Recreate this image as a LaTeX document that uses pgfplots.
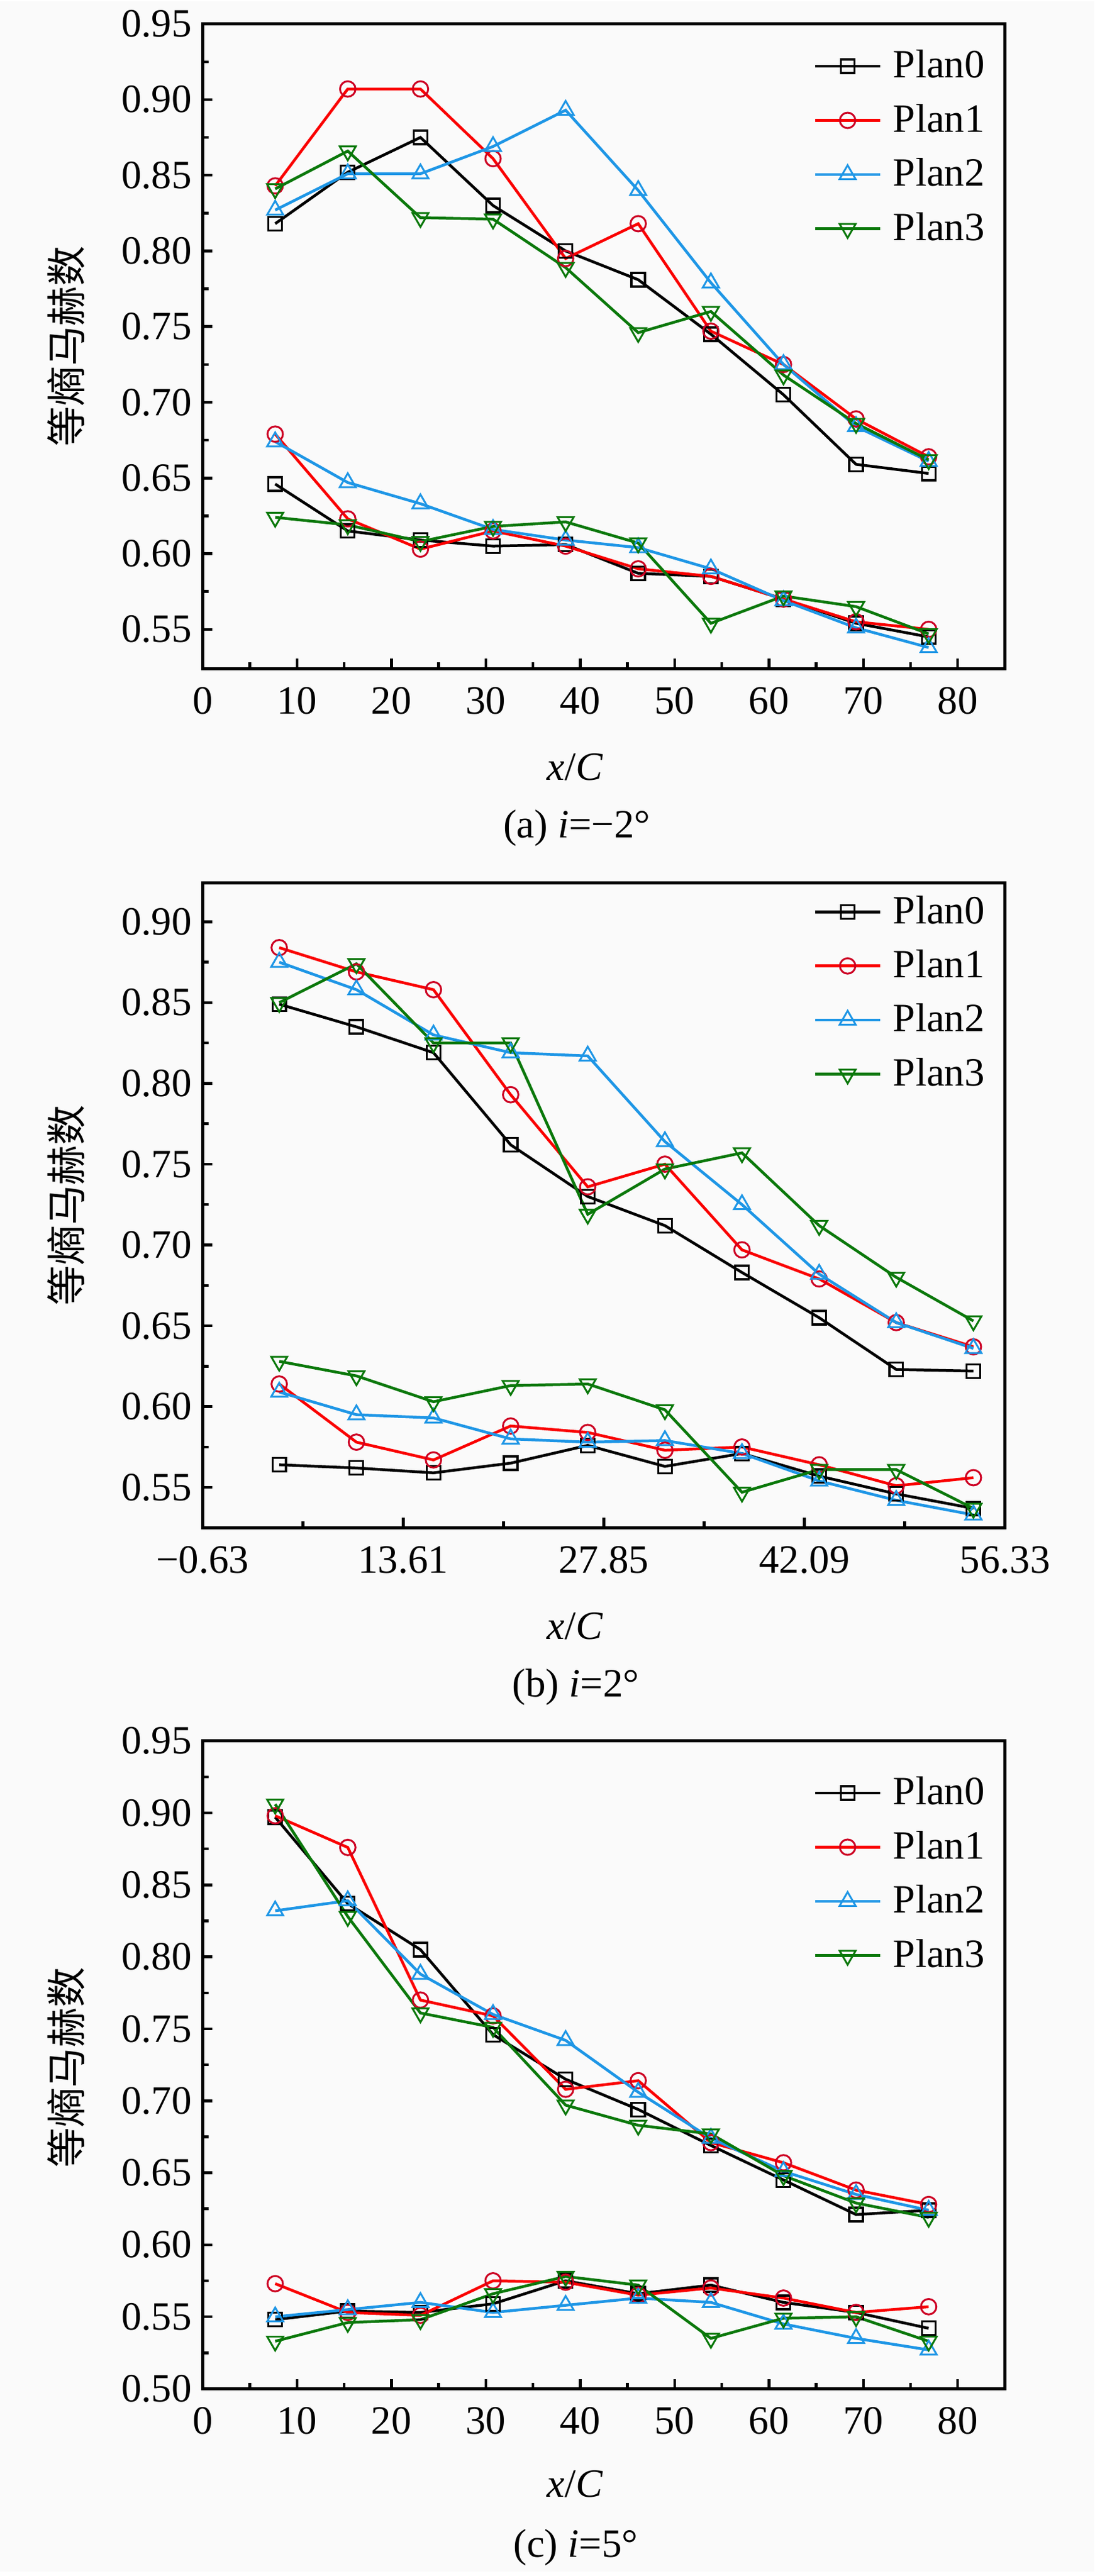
\documentclass[border=0pt]{standalone}
\usepackage{fontspec}
\setmainfont{Liberation Serif}
\newfontfamily\cjk{Noto Sans CJK SC}
\usepackage{pgfplots}
\usepackage{pgfplotstable}
\pgfplotsset{compat=1.18}
\definecolor{bgc}{RGB}{250,250,250}
\definecolor{cred}{RGB}{250,0,0}
\definecolor{credm}{RGB}{205,0,35}
\definecolor{cblue}{RGB}{30,150,230}
\definecolor{cgreen}{RGB}{10,120,10}
\newcommand{\fs}{\fontsize{13}{15.6}\selectfont}

\pgfplotstableread{
x u0 u1 u2 u3 l0 l1 l2 l3
7.69  0.818 0.843 0.827 0.841 0.646 0.679 0.674 0.624
15.38 0.852 0.907 0.851 0.866 0.615 0.623 0.647 0.619
23.08 0.875 0.907 0.851 0.822 0.609 0.603 0.633 0.608
30.77 0.830 0.861 0.869 0.821 0.605 0.615 0.616 0.618
38.46 0.800 0.795 0.893 0.789 0.606 0.605 0.609 0.621
46.15 0.781 0.818 0.840 0.746 0.587 0.590 0.604 0.607
53.85 0.745 0.747 0.779 0.760 0.585 0.585 0.590 0.554
61.54 0.705 0.725 0.725 0.718 0.570 0.570 0.569 0.572
69.23 0.659 0.689 0.684 0.686 0.554 0.555 0.551 0.565
76.92 0.653 0.664 0.661 0.662 0.545 0.550 0.538 0.547
}\tabA

\pgfplotstableread{
x u0 u1 u2 u3 l0 l1 l2 l3
4.81  0.849 0.884 0.875 0.850 0.564 0.614 0.609 0.628
10.29 0.835 0.869 0.858 0.874 0.562 0.578 0.595 0.619
15.76 0.819 0.858 0.830 0.825 0.559 0.567 0.593 0.603
21.24 0.762 0.793 0.819 0.825 0.565 0.588 0.580 0.613
26.71 0.730 0.736 0.817 0.719 0.576 0.584 0.578 0.614
32.19 0.712 0.750 0.764 0.747 0.563 0.573 0.579 0.598
37.66 0.683 0.697 0.725 0.757 0.571 0.575 0.571 0.547
43.14 0.655 0.679 0.682 0.712 0.557 0.564 0.554 0.561
48.61 0.623 0.652 0.652 0.680 0.546 0.551 0.542 0.561
54.09 0.622 0.637 0.636 0.653 0.537 0.556 0.533 0.537
}\tabB

\pgfplotstableread{
x u0 u1 u2 u3 l0 l1 l2 l3
7.69  0.897 0.898 0.832 0.906 0.548 0.573 0.550 0.533
15.38 0.837 0.876 0.839 0.828 0.554 0.553 0.555 0.546
23.08 0.805 0.770 0.788 0.761 0.553 0.551 0.560 0.548
30.77 0.746 0.759 0.760 0.751 0.559 0.575 0.553 0.566
38.46 0.715 0.708 0.742 0.697 0.575 0.574 0.558 0.578
46.15 0.694 0.714 0.706 0.683 0.566 0.565 0.563 0.572
53.85 0.669 0.671 0.674 0.677 0.572 0.570 0.560 0.535
61.54 0.645 0.657 0.651 0.648 0.560 0.563 0.545 0.549
69.23 0.621 0.638 0.635 0.629 0.553 0.553 0.535 0.550
76.92 0.624 0.628 0.624 0.619 0.542 0.557 0.527 0.533
}\tabC

\pgfplotsset{
  myax/.style={
    scale only axis, width=259.8pt, height=208.8pt, anchor=north west,
    axis line style={line width=1pt},
    tick style={line width=0.9pt, black},
    major tick length=3.2pt, minor tick length=2pt,
    tick align=inside, tick pos=left,
    minor x tick num=1, minor y tick num=1,
    tick label style={font=\fs},
    /pgf/number format/assume math mode=true,
    yticklabel style={/pgf/number format/fixed, /pgf/number format/fixed zerofill, /pgf/number format/precision=2},
    xticklabel style={yshift=-2.5pt},
    legend cell align=left,
    legend style={draw=none, fill=none, font=\fs, anchor=north west, row sep=3pt, inner sep=0pt,
      nodes={inner sep=2pt}},
    /tikz/every odd column/.append style={column sep=1.8pt},
    legend image code/.code={\draw[mark repeat=2,mark phase=2,##1] plot coordinates {(0pt,0pt) (10.5pt,0pt) (21pt,0pt)};},
  },
  p0/.style={black, line width=0.9pt, mark=square, mark size=2.2pt, mark options={solid, fill=white, line width=0.65pt}},
  p1/.style={cred, line width=0.9pt, mark=o, mark size=2.5pt, mark options={solid, draw=credm, fill=white, line width=0.6pt}},
  p2/.style={cblue, line width=0.9pt, mark=triangle, mark size=3pt, mark options={solid, fill=white, line width=0.6pt}},
  p3/.style={cgreen, line width=0.9pt, mark=triangle, mark size=3pt, mark options={solid, fill=white, line width=0.6pt, rotate=180}},
}

\begin{document}
\begin{tikzpicture}
\fill[bgc] (0pt,0pt) rectangle (354.4pt,832.4pt);

% ---------- (a)
\begin{axis}[myax, at={(65.6pt,825.0pt)},
  xmin=0, xmax=85, ymin=0.524, ymax=0.95,
  xtick={0,10,...,80}, ytick={0.55,0.60,...,0.951},
  legend style={at={(0.761,0.970)}}]
\addplot[p0] table[x=x,y=u0] {\tabA}; \addlegendentry{Plan0}
\addplot[p1] table[x=x,y=u1] {\tabA}; \addlegendentry{Plan1}
\addplot[p2] table[x=x,y=u2] {\tabA}; \addlegendentry{Plan2}
\addplot[p3] table[x=x,y=u3] {\tabA}; \addlegendentry{Plan3}
\addplot[p0, forget plot] table[x=x,y=l0] {\tabA};
\addplot[p1, forget plot] table[x=x,y=l1] {\tabA};
\addplot[p2, forget plot] table[x=x,y=l2] {\tabA};
\addplot[p3, forget plot] table[x=x,y=l3] {\tabA};
\end{axis}
\node[font=\fs, rotate=90] at (21.4pt,720.6pt) {\cjk 等熵马赫数};
\node[font=\fs] at (186.2pt,584.4pt) {\textit{x}/\textit{C}};
\node[font=\fs] at (186.8pt,564.6pt) {(a) \textit{i}=−2°};

% ---------- (b)
\begin{axis}[myax, at={(65.6pt,546.8pt)},
  xmin=-0.63, xmax=56.33, ymin=0.525, ymax=0.924,
  xtick={-0.63,13.61,27.85,42.09,56.33},
  xticklabels={−0.63,13.61,27.85,42.09,56.33},
  ytick={0.55,0.60,...,0.901},
  legend style={at={(0.761,0.991)}}]
\addplot[p0] table[x=x,y=u0] {\tabB}; \addlegendentry{Plan0}
\addplot[p1] table[x=x,y=u1] {\tabB}; \addlegendentry{Plan1}
\addplot[p2] table[x=x,y=u2] {\tabB}; \addlegendentry{Plan2}
\addplot[p3] table[x=x,y=u3] {\tabB}; \addlegendentry{Plan3}
\addplot[p0, forget plot] table[x=x,y=l0] {\tabB};
\addplot[p1, forget plot] table[x=x,y=l1] {\tabB};
\addplot[p2, forget plot] table[x=x,y=l2] {\tabB};
\addplot[p3, forget plot] table[x=x,y=l3] {\tabB};
\end{axis}
\node[font=\fs, rotate=90] at (21.4pt,442.4pt) {\cjk 等熵马赫数};
\node[font=\fs] at (186.2pt,306.2pt) {\textit{x}/\textit{C}};
\node[font=\fs] at (186.4pt,286.4pt) {(b) \textit{i}=2°};

% ---------- (c)
\begin{axis}[myax, at={(65.6pt,269.0pt)}, height=209.8pt,
  xmin=0, xmax=85, ymin=0.50, ymax=0.95,
  xtick={0,10,...,80}, ytick={0.50,0.55,...,0.951},
  legend style={at={(0.761,0.955)}}]
\addplot[p0] table[x=x,y=u0] {\tabC}; \addlegendentry{Plan0}
\addplot[p1] table[x=x,y=u1] {\tabC}; \addlegendentry{Plan1}
\addplot[p2] table[x=x,y=u2] {\tabC}; \addlegendentry{Plan2}
\addplot[p3] table[x=x,y=u3] {\tabC}; \addlegendentry{Plan3}
\addplot[p0, forget plot] table[x=x,y=l0] {\tabC};
\addplot[p1, forget plot] table[x=x,y=l1] {\tabC};
\addplot[p2, forget plot] table[x=x,y=l2] {\tabC};
\addplot[p3, forget plot] table[x=x,y=l3] {\tabC};
\end{axis}
\node[font=\fs, rotate=90] at (21.4pt,163.2pt) {\cjk 等熵马赫数};
\node[font=\fs] at (186.2pt,28.4pt) {\textit{x}/\textit{C}};
\node[font=\fs] at (186.4pt,7.8pt) {(c) \textit{i}=5°};
\end{tikzpicture}
\end{document}
